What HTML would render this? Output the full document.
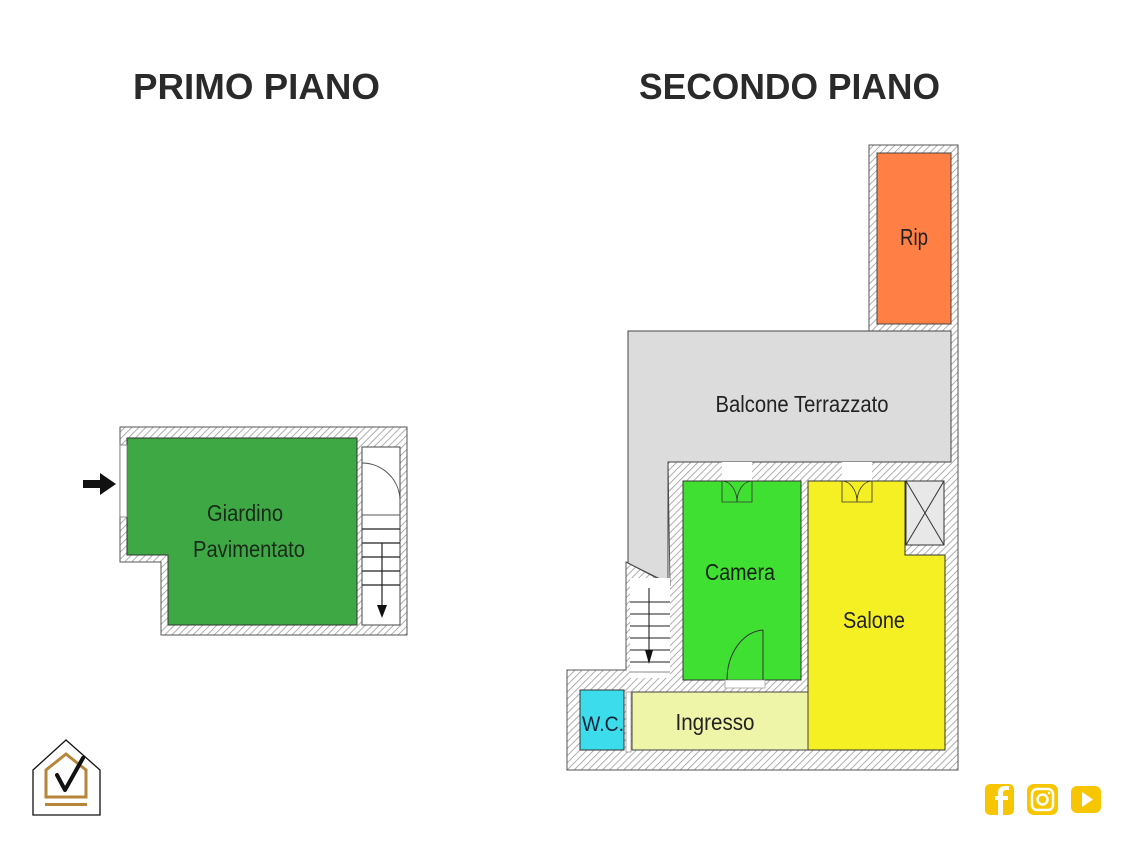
<!DOCTYPE html>
<html><head><meta charset="utf-8"><style>
html,body{margin:0;padding:0;background:#fff;}
svg{display:block;}
text{font-family:"Liberation Sans",sans-serif;}
</style></head><body>
<svg width="1133" height="850" viewBox="0 0 1133 850" xmlns="http://www.w3.org/2000/svg">
<defs>
<pattern id="h" width="5" height="5" patternUnits="userSpaceOnUse" patternTransform="rotate(45)">
<rect width="5" height="5" fill="#fff"/><line x1="0" y1="0" x2="0" y2="5" stroke="#9a9a9a" stroke-width="1.6"/>
</pattern>
</defs>
<text x="133" y="99" font-size="36" font-weight="bold" fill="#2a2a2a" textLength="247" lengthAdjust="spacingAndGlyphs">PRIMO PIANO</text>
<text x="639" y="99" font-size="36" font-weight="bold" fill="#2a2a2a" textLength="301" lengthAdjust="spacingAndGlyphs">SECONDO PIANO</text>

<!-- PRIMO PIANO -->
<polygon points="120,427 407,427 407,635 161,635 161,562 120,562" fill="url(#h)" stroke="#555" stroke-width="1"/>
<polygon points="127,438 357,438 357,625 168,625 168,555 127,555" fill="#3ea845" stroke="#333" stroke-width="1"/>
<rect x="120" y="445" width="7" height="72" fill="#fff" stroke="#777" stroke-width="0.8"/>
<rect x="362" y="447" width="38" height="178" fill="#fff" stroke="#444" stroke-width="1"/>
<path d="M362,463 A38,38 0 0 1 400,501" fill="none" stroke="#555" stroke-width="1"/>
<line x1="362" y1="515" x2="400" y2="515" stroke="#555"/>
<g stroke="#222" stroke-width="1.2">
<line x1="362" y1="529" x2="400" y2="529"/><line x1="362" y1="543" x2="400" y2="543"/>
<line x1="362" y1="557" x2="400" y2="557"/><line x1="362" y1="571" x2="400" y2="571"/>
<line x1="362" y1="585" x2="400" y2="585"/><line x1="382" y1="543" x2="382" y2="610"/>
</g>
<polygon points="377,605 387,605 382,618" fill="#111"/>
<polygon points="83,480 100,480 100,473 116,484 100,495 100,488 83,488" fill="#111"/>
<text x="245" y="521" font-size="23" fill="#1a2a1a" text-anchor="middle" textLength="76" lengthAdjust="spacingAndGlyphs">Giardino</text>
<text x="249" y="557" font-size="23" fill="#1a2a1a" text-anchor="middle" textLength="112" lengthAdjust="spacingAndGlyphs">Pavimentato</text>

<!-- SECONDO PIANO -->
<polygon points="869,145 958,145 958,770 567,770 567,670 626,670 626,562 670,585 668,462 951,462 951,331 869,331" fill="url(#h)" stroke="#555" stroke-width="1"/>
<rect x="877" y="153" width="74" height="171" fill="#ff7f45" stroke="#444" stroke-width="1"/>
<polygon points="628,331 951,331 951,462 668,462 668,583 628,563" fill="#dcdcdc" stroke="#444" stroke-width="1"/>
<rect x="722" y="462" width="30" height="19" fill="#fff"/>
<rect x="842" y="462" width="30" height="19" fill="#fff"/>
<rect x="683" y="481" width="118" height="199" fill="#40e033" stroke="#333" stroke-width="1"/>
<polygon points="808,481 905,481 905,555 945,555 945,750 808,750" fill="#f5f023" stroke="#333" stroke-width="1"/>
<rect x="906" y="481" width="38" height="64" fill="#e8e8e8" stroke="#333" stroke-width="1"/>
<line x1="906" y1="481" x2="944" y2="545" stroke="#333"/><line x1="944" y1="481" x2="906" y2="545" stroke="#333"/>
<rect x="632" y="692" width="176" height="58" fill="#eef5a8" stroke="#444" stroke-width="1"/>
<rect x="580" y="690" width="44" height="60" fill="#3cdcec" stroke="#333" stroke-width="1"/>
<rect x="626" y="692" width="5" height="60" fill="#fff" stroke="#777" stroke-width="0.6"/>
<rect x="630" y="578" width="40" height="100" fill="#fff"/>
<g stroke="#222" stroke-width="1.1">
<line x1="630" y1="602" x2="670" y2="602"/><line x1="630" y1="614" x2="670" y2="614"/>
<line x1="630" y1="626" x2="670" y2="626"/><line x1="630" y1="638" x2="670" y2="638"/>
<line x1="630" y1="650" x2="670" y2="650"/><line x1="630" y1="662" x2="670" y2="662"/>
<line x1="649" y1="588" x2="649" y2="652"/>
<line x1="630" y1="672" x2="670" y2="672" stroke="#888"/>
</g>
<polygon points="645,650 653,650 649,664" fill="#111"/>
<rect x="725" y="680" width="40" height="8" fill="#fff" stroke="#888" stroke-width="0.6"/>
<path d="M763,630 L763,680 M763,630 A38,50 0 0 0 727,680" fill="none" stroke="#333" stroke-width="1"/>
<path d="M722,481 L722,502 L737,502 A15,21 0 0 0 722,481 M752,481 L752,502 L737,502 A15,21 0 0 1 752,481" fill="none" stroke="#333" stroke-width="0.8"/>
<path d="M842,481 L842,502 L857,502 A15,21 0 0 0 842,481 M872,481 L872,502 L857,502 A15,21 0 0 1 872,481" fill="none" stroke="#333" stroke-width="0.8"/>
<text x="914" y="245" font-size="23" fill="#222" text-anchor="middle" textLength="28" lengthAdjust="spacingAndGlyphs">Rip</text>
<text x="802" y="412" font-size="23" fill="#222" text-anchor="middle" textLength="173" lengthAdjust="spacingAndGlyphs">Balcone Terrazzato</text>
<text x="740" y="580" font-size="23" fill="#102010" text-anchor="middle" textLength="70" lengthAdjust="spacingAndGlyphs">Camera</text>
<text x="874" y="628" font-size="23" fill="#222" text-anchor="middle" textLength="62" lengthAdjust="spacingAndGlyphs">Salone</text>
<text x="715" y="730" font-size="23" fill="#222" text-anchor="middle" textLength="79" lengthAdjust="spacingAndGlyphs">Ingresso</text>
<text x="603" y="731" font-size="21" fill="#123" text-anchor="middle" textLength="42" lengthAdjust="spacingAndGlyphs">W.C.</text>

<!-- logo -->
<polygon points="33,770 66,740 100,770 100,815 33,815" fill="#fff" stroke="#111" stroke-width="1.3"/>
<polygon points="46,797 46,770 66,754 86,770 86,797" fill="none" stroke="#b8863a" stroke-width="3"/>
<rect x="45" y="803" width="42" height="3" fill="#b8863a"/>
<path d="M57,775 L65,790 L83,758" fill="none" stroke="#111" stroke-width="4" stroke-linecap="round" stroke-linejoin="round"/>

<!-- social -->
<rect x="985" y="784" width="29" height="31" rx="5" fill="#f7c600"/>
<path d="M1003,815 L1003,800 L1008,800 L1008,796 L1003,796 L1003,793 Q1003,790 1006,790 L1009,790 L1009,786 L1005,786 Q998,786 998,793 L998,796 L995,796 L995,800 L998,800 L998,815 Z" fill="#fff"/>
<rect x="1027" y="784" width="31" height="31" rx="7" fill="#f7c600"/>
<rect x="1032" y="789" width="21" height="21" rx="5" fill="none" stroke="#fff" stroke-width="2.5"/>
<circle cx="1042.5" cy="799.5" r="5" fill="none" stroke="#fff" stroke-width="2.5"/>
<circle cx="1049" cy="793" r="1.3" fill="#fff"/>
<rect x="1071" y="786" width="30" height="27" rx="6" fill="#f7c600"/>
<polygon points="1082,792 1082,807 1093,799.5" fill="#fff"/>
</svg>
</body></html>
